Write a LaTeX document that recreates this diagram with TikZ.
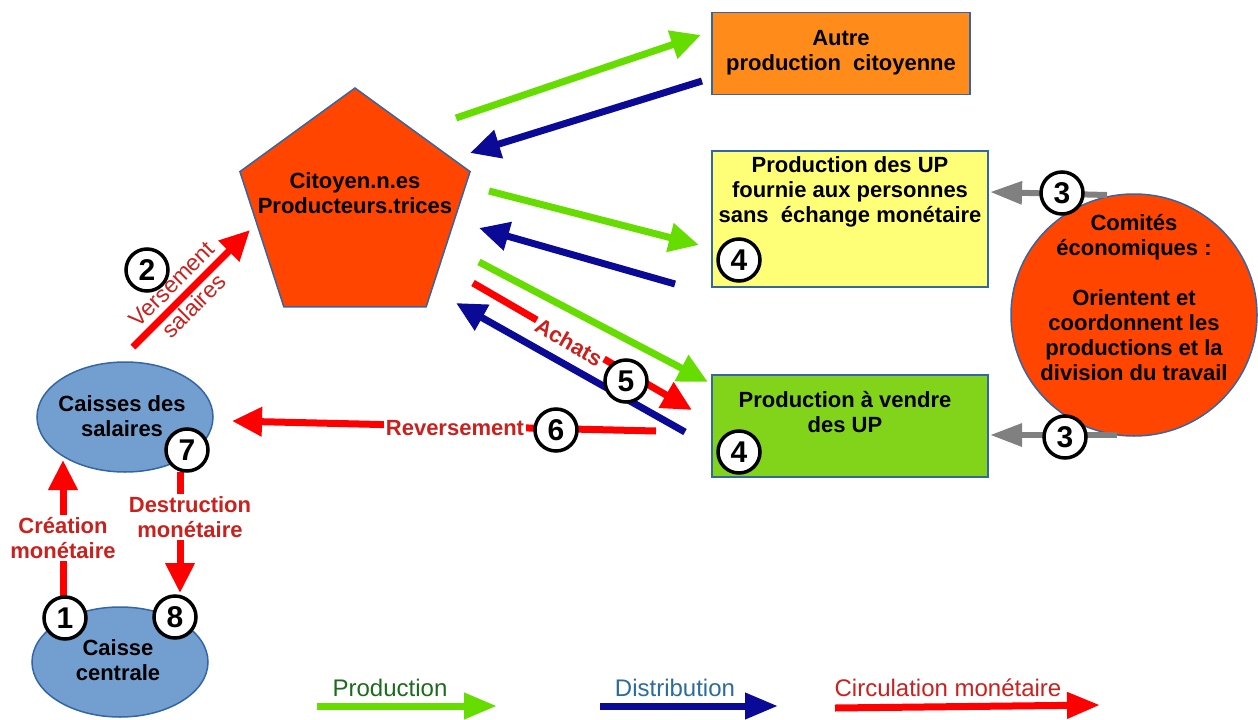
\documentclass[tikz,border=0pt]{standalone}
\usepackage{fontspec}
\setmainfont{Liberation Sans}
\usetikzlibrary{arrows.meta,shapes.geometric}
\definecolor{ogreen}{RGB}{102,221,0}
\definecolor{dblue}{RGB}{10,10,150}
\definecolor{mred}{RGB}{255,0,0}
\definecolor{mgrey}{RGB}{128,128,128}
\definecolor{labred}{RGB}{201,33,30}
\definecolor{ored}{RGB}{255,69,0}
\definecolor{orangeA}{RGB}{255,140,26}
\definecolor{yellowA}{RGB}{255,255,119}
\definecolor{limeA}{RGB}{129,212,26}
\definecolor{ellblue}{RGB}{114,159,207}
\definecolor{bordblue}{RGB}{52,101,164}
\definecolor{legGreen}{RGB}{28,107,28}
\definecolor{legBlue}{RGB}{42,108,156}
\begin{document}
\begin{tikzpicture}[x=1pt,y=-1pt,
  txt/.style={font=\fontsize{22}{25}\selectfont\bfseries, align=center, text=black, inner sep=0pt},
  shapebox/.style={draw=bordblue, line width=1.5pt, inner sep=0pt},
  arr/.style={line width=7pt, -{Triangle[length=30pt,width=28pt]}},
  garr/.style={arr, draw=ogreen},
  barr/.style={arr, draw=dblue},
  rarr/.style={arr, draw=mred},
  grarr/.style={line width=6pt, draw=mgrey, -{Triangle[length=32pt,width=22pt]}},
  legarr/.style={line width=7pt, -{Triangle[length=33pt,width=25pt]}},
  num/.style={circle, draw=black, line width=3.5pt, fill=white, minimum size=42pt, inner sep=0pt, font=\fontsize{30}{30}\selectfont\bfseries},
  redlbl/.style={text=labred, font=\fontsize{22}{25}\selectfont\bfseries, align=center, inner sep=2pt},
  leglbl/.style={font=\fontsize{24}{26}\selectfont, inner sep=0pt}
]
\useasboundingbox (0,0) rectangle (1258,720);

% main shapes
\node[regular polygon, regular polygon sides=5, minimum size=242pt, fill=ored, shapebox] (cit) at (355,209) {};
\node[txt] (cittxt) at (355,193) {Citoyen.n.es\\Producteurs.trices};

\node[shapebox, fill=orangeA, minimum width=258pt, minimum height=82pt] (autre) at (841,53.5) {};
\node[txt] (autretxt) at (841,53) {Autre\\production~~citoyenne};

\node[shapebox, fill=yellowA, minimum width=276pt, minimum height=136pt] (ybox) at (850,219) {};
\node[txt] (ytxt) at (850,192) {Production des UP\\fournie aux personnes\\sans~~échange monétaire};

\node[shapebox, fill=limeA, minimum width=276pt, minimum height=102pt] (gbox) at (850,426) {};
\node[txt] (gtxt) at (845,412) {Production à vendre\\des UP};

\node[ellipse, shapebox, fill=ored, minimum width=246pt, minimum height=242pt] (comite) at (1134,315) {};
\node[txt] (comtxt) at (1134,298) {Comités\\économiques :\\[25pt]Orientent et\\coordonnent les\\productions et la\\division du travail};

\node[ellipse, shapebox, fill=ellblue, minimum width=176pt, minimum height=110pt] (caisses) at (125,417) {};
\node[txt] (caissestxt) at (122,416) {Caisses des\\salaires};

\node[ellipse, shapebox, fill=ellblue, minimum width=176pt, minimum height=110pt] (centrale) at (120,662) {};
\node[txt] (centraletxt) at (118,660) {Caisse\\centrale};

% arrow end points
\coordinate (g1s) at (456,118); \coordinate (g1e) at (701,35);
\coordinate (b1s) at (702,81);  \coordinate (b1e) at (470,153);
\coordinate (g2s) at (489,191); \coordinate (g2e) at (699,245);
\coordinate (b2s) at (675,284); \coordinate (b2e) at (479,228);
\coordinate (g3s) at (479,262); \coordinate (g3e) at (708,382);
\coordinate (r5s) at (473,283); \coordinate (r5e) at (692,410);
\coordinate (b3s) at (685,432); \coordinate (b3e) at (456,303);
\coordinate (r6s) at (656,431); \coordinate (r6e) at (232,421);
\coordinate (r2s) at (133,347); \coordinate (r2e) at (250,230);
\coordinate (r1s) at (63,597);  \coordinate (r1e) at (63,460);
\coordinate (r7s) at (180,472); \coordinate (r7e) at (180,593);
\coordinate (gr1s) at (1107,195); \coordinate (gr1e) at (990,192);
\coordinate (gr2s) at (1117,435); \coordinate (gr2e) at (990,435);

% arrows
\draw[garr] (g1s) -- (g1e);
\draw[barr] (b1s) -- (b1e);
\draw[garr] (g2s) -- (g2e);
\draw[barr] (b2s) -- (b2e);
\draw[garr] (g3s) -- (g3e);
\draw[rarr] (r5s) -- (r5e);
\draw[barr] (b3s) -- (b3e);
\draw[rarr] (r6s) -- (r6e);
\draw[rarr] (r2s) -- (r2e);
\draw[rarr] (r1s) -- (r1e);
\draw[rarr] (r7s) -- (r7e);
\draw[grarr] (gr1s) -- (gr1e);
\draw[grarr] (gr2s) -- (gr2e);

% labels
\node[redlbl, fill=white, rotate=-30] (achats) at (569,342) {Achats};
\node[redlbl, fill=white] (revers) at (455,428) {Reversement};
\node[redlbl, font=\fontsize{23}{31}\selectfont, rotate=45] (versement) at (183,295) {Versement\\salaires};
\node[redlbl, fill=white] (creation) at (63,538) {Création\\monétaire};
\node[redlbl, fill=white] (destruction) at (190,517) {Destruction\\monétaire};

% numbers
\node[num] (n2) at (147,270) {2};
\node[num] (n7) at (187,450) {7};
\node[num] (n1) at (65,618) {1};
\node[num] (n8) at (175,617) {8};
\node[num] (n5) at (626,381) {5};
\node[num] (n6) at (556,430) {6};
\node[num] (n4a) at (739,260) {4};
\node[num] (n4b) at (739,452) {4};
\node[num] (n3a) at (1062,193) {3};
\node[num] (n3b) at (1065,437) {3};

% legend
\node[leglbl, text=legGreen] (lprod) at (390,688) {Production};
\coordinate (lp1) at (317,706); \coordinate (lp2) at (497,706);
\draw[legarr, draw=ogreen] (lp1) -- (lp2);
\node[leglbl, text=legBlue] (ldist) at (675,688) {Distribution};
\coordinate (ld1) at (600,706); \coordinate (ld2) at (778,706);
\draw[legarr, draw=dblue] (ld1) -- (ld2);
\node[leglbl, text=labred] (lcirc) at (948,688) {Circulation monétaire};
\coordinate (lc1) at (835,708); \coordinate (lc2) at (1100,705);
\draw[legarr, draw=mred] (lc1) -- (lc2);
\end{tikzpicture}
\end{document}
